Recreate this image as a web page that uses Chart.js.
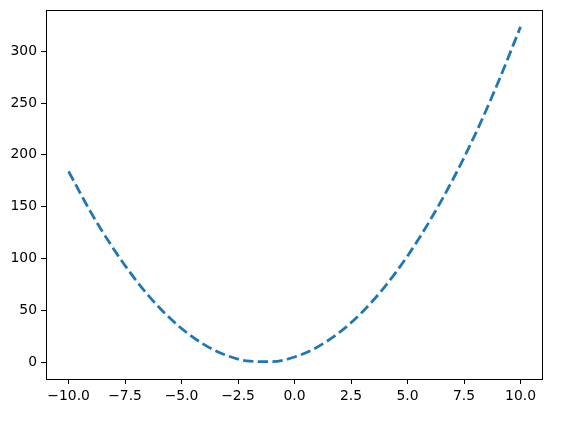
<!DOCTYPE html>
<html>
<head>
<meta charset="utf-8">
<script src="https://cdn.jsdelivr.net/npm/chart.js@4/dist/chart.umd.min.js"></script>
<style>
    html, body { margin: 0; padding: 0; background: #fff; }
    #wrap { width: 584px; height: 423px; }
</style>
</head>
<body>
<div id="wrap"><canvas id="grafik" width="584" height="423"></canvas></div>
<script>
// nilai
const xValues = [-10, -9, -8, -7, -6, -5, -4, -3, -2, -1, 0, 1, 2, 3, 4, 5, 6, 7, 8, 9, 10];
const yValues = [184, 144, 109, 78.5, 53, 32.5, 17, 6.5, 1, 0.5, 5, 14.5, 29, 48.5, 73, 102.5, 137, 176, 220, 269.5, 323.5];
const xTicks = [-10, -7.5, -5, -2.5, 0, 2.5, 5, 7.5, 10];
const yTicks = [0, 50, 100, 150, 200, 250, 300];

const points = xValues.map((x, i) => ({ x: x, y: yValues[i] }));

const fmtMinus = s => String(s).replace('-', '\u2212');

// bingkai penuh seperti matplotlib
const bingkai = {
    id: 'bingkai',
    afterDraw(chart) {
        const { ctx, chartArea: a } = chart;
        ctx.save();
        ctx.strokeStyle = '#000';
        ctx.lineWidth = 1;
        ctx.strokeRect(Math.round(a.left) + 0.5, Math.round(a.top) + 0.5,
            Math.round(a.right - a.left), Math.round(a.bottom - a.top));
        ctx.restore();
    }
};

const nolPadding = scale => {
    scale.paddingTop = 0;
    scale.paddingBottom = 0;
    scale.paddingLeft = 0;
    scale.paddingRight = 0;
};

const ctx = document.getElementById('grafik').getContext('2d');

new Chart(ctx, {
    type: 'line',
    data: {
        datasets: [{
            data: points,
            borderColor: '#1f77b4',
            borderWidth: 2.8,
            borderDash: [10.3, 4.4],
            pointRadius: 0,
            tension: 0.4,
            cubicInterpolationMode: 'monotone',
            fill: false
        }]
    },
    options: {
        responsive: false,
        animation: false,
        layout: { padding: { top: 10, right: 42, left: 0, bottom: 0 } },
        plugins: {
            legend: { display: false },
            tooltip: { enabled: false }
        },
        scales: {
            x: {
                type: 'linear',
                min: -11,
                max: 10.95,
                afterBuildTicks: scale => { scale.ticks = xTicks.map(v => ({ value: v })); },
                afterFit: scale => { scale.height = 44; nolPadding(scale); },
                grid: { drawOnChartArea: false, drawTicks: true, tickLength: 5, color: '#000' },
                border: { display: false },
                ticks: {
                    color: '#000',
                    padding: 4,
                    maxRotation: 0,
                    font: { family: 'DejaVu Sans', size: 13.9 },
                    callback: v => fmtMinus(v.toFixed(1))
                }
            },
            y: {
                type: 'linear',
                min: -16.2,
                max: 339.7,
                afterBuildTicks: scale => { scale.ticks = yTicks.map(v => ({ value: v })); },
                afterFit: scale => { scale.width = 46; nolPadding(scale); },
                grid: { drawOnChartArea: false, drawTicks: true, tickLength: 5, color: '#000' },
                border: { display: false },
                ticks: {
                    color: '#000',
                    padding: 4,
                    font: { family: 'DejaVu Sans', size: 13.9 },
                    callback: v => fmtMinus(v)
                }
            }
        }
    },
    plugins: [bingkai]
});
</script>
</body>
</html>
